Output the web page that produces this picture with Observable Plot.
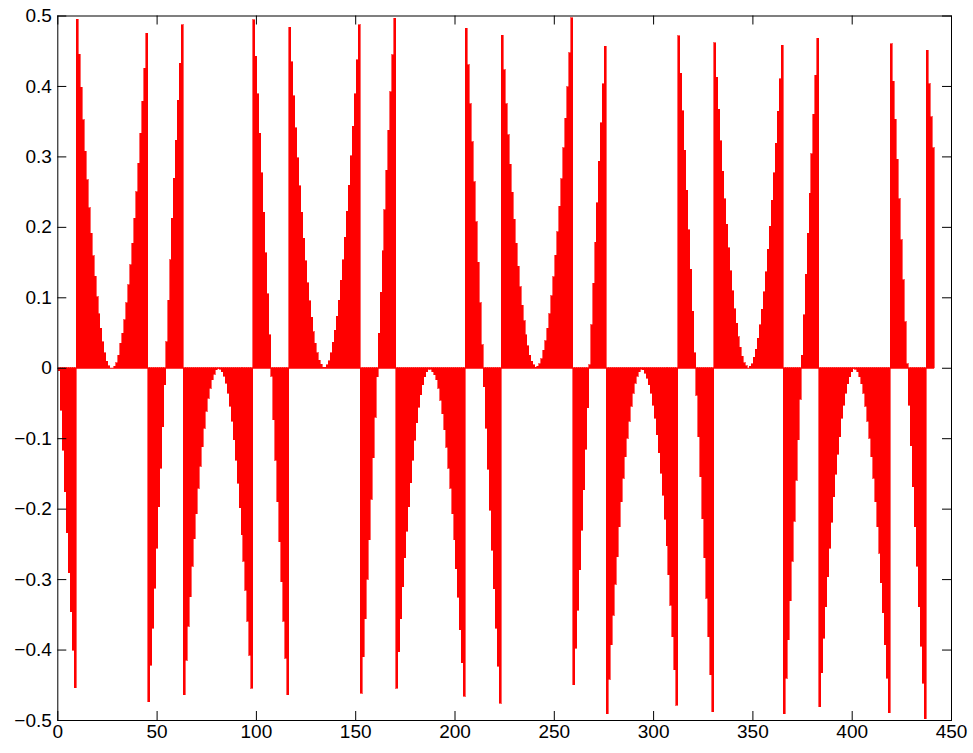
<!DOCTYPE html>
<html>
<head>
<meta charset="utf-8">
<script src="https://cdn.jsdelivr.net/npm/d3@7"></script>
<script src="https://cdn.jsdelivr.net/npm/@observablehq/plot@0.6"></script>
<style>
  html, body { margin: 0; padding: 0; background: #fff; }
  #chart svg { display: block; }
</style>
</head>
<body>
<div id="chart"></div>
<script>
// Tick values
const xTicks = [0, 50, 100, 150, 200, 250, 300, 350, 400, 450];
const yTicks = [-0.5, -0.4, -0.3, -0.2, -0.1, 0, 0.1, 0.2, 0.3, 0.4, 0.5];

// Bar values, sample index 1..441
const seg001 = [-0.004, -0.060, -0.117, -0.176, -0.234, -0.291, -0.346, -0.401, -0.454];
const seg010 = [0.495, 0.445, 0.398, 0.352, 0.307, 0.267, 0.227, 0.191, 0.159, 0.130, 0.101, 0.077, 0.056, 0.037, 0.021, 0.009, 0.003, 0.000,
                0.000, 0.002, 0.007, 0.018, 0.035, 0.049, 0.068, 0.092, 0.118, 0.146, 0.177, 0.212, 0.250, 0.290, 0.333, 0.378, 0.425, 0.475];
const seg046 = [-0.474, -0.422, -0.370, -0.313, -0.256, -0.197, -0.143, -0.084, -0.024, 0.037, 0.096, 0.153, 0.212, 0.269, 0.323, 0.380, 0.432, 0.487];
const seg064 = [-0.464, -0.415, -0.367, -0.325, -0.282, -0.243, -0.207, -0.171, -0.140, -0.112, -0.086, -0.062, -0.043, -0.029, -0.017, -0.009, -0.003, -0.001,
                -0.002, -0.006, -0.012, -0.022, -0.036, -0.055, -0.076, -0.102, -0.131, -0.164, -0.199, -0.237, -0.275, -0.316, -0.360, -0.408, -0.455];
const seg099 = [0.494, 0.442, 0.389, 0.333, 0.277, 0.221, 0.163, 0.105, 0.047, -0.012, -0.074, -0.131, -0.190, -0.247, -0.304, -0.360, -0.412, -0.464];
const seg117 = [0.483, 0.434, 0.386, 0.341, 0.298, 0.258, 0.221, 0.184, 0.152, 0.121, 0.095, 0.072, 0.051, 0.035, 0.021, 0.011, 0.005, 0.001,
                0.001, 0.004, 0.010, 0.021, 0.036, 0.053, 0.073, 0.096, 0.124, 0.153, 0.185, 0.222, 0.259, 0.301, 0.343, 0.389, 0.437, 0.487];
const seg153 = [-0.462, -0.410, -0.356, -0.300, -0.244, -0.187, -0.128, -0.070, -0.013, 0.049, 0.107, 0.166, 0.224, 0.280, 0.337, 0.392, 0.444, 0.496];
const seg171 = [-0.455, -0.403, -0.356, -0.311, -0.270, -0.232, -0.197, -0.163, -0.131, -0.103, -0.078, -0.056, -0.038, -0.024, -0.013, -0.006, -0.002,
                -0.002, -0.006, -0.010, -0.017, -0.029, -0.046, -0.065, -0.088, -0.113, -0.143, -0.171, -0.207, -0.244, -0.285, -0.326, -0.372, -0.419, -0.466];
const seg206 = [0.482, 0.430, 0.375, 0.321, 0.264, 0.207, 0.150, 0.092, 0.033, -0.027, -0.086, -0.144, -0.202, -0.259, -0.314, -0.370, -0.424, -0.476];
const seg224 = [0.472, 0.423, 0.375, 0.331, 0.289, 0.249, 0.211, 0.177, 0.144, 0.115, 0.089, 0.067, 0.047, 0.031, 0.018, 0.009, 0.004, 0.001,
                0.002, 0.006, 0.013, 0.025, 0.038, 0.056, 0.077, 0.102, 0.129, 0.160, 0.193, 0.229, 0.268, 0.312, 0.354, 0.399, 0.447, 0.497];
const seg260 = [-0.450, -0.398, -0.344, -0.287, -0.231, -0.173, -0.116, -0.057, 0.004, 0.061, 0.120, 0.178, 0.234, 0.293, 0.348, 0.403, 0.456];
const seg277 = [-0.491, -0.442, -0.393, -0.351, -0.307, -0.268, -0.226, -0.190, -0.157, -0.126, -0.100, -0.076, -0.055, -0.036, -0.022, -0.012, -0.006, -0.002,
                -0.003, -0.008, -0.015, -0.024, -0.036, -0.053, -0.072, -0.095, -0.121, -0.150, -0.181, -0.215, -0.253, -0.294, -0.337, -0.382, -0.429, -0.479];
const seg313 = [0.471, 0.418, 0.365, 0.309, 0.252, 0.196, 0.140, 0.080, 0.021, -0.039, -0.098, -0.155, -0.214, -0.270, -0.327, -0.382, -0.436, -0.488];
const seg331 = [0.461, 0.412, 0.367, 0.322, 0.279, 0.240, 0.204, 0.170, 0.138, 0.109, 0.084, 0.063, 0.044, 0.029, 0.016, 0.007, 0.003, 0.000,
                0.002, 0.006, 0.015, 0.026, 0.042, 0.061, 0.083, 0.108, 0.136, 0.168, 0.201, 0.238, 0.277, 0.319, 0.364, 0.410, 0.458];
const seg366 = [-0.491, -0.441, -0.386, -0.331, -0.275, -0.218, -0.160, -0.102, -0.045, 0.018, 0.075, 0.133, 0.191, 0.248, 0.304, 0.360, 0.415, 0.468];
const seg384 = [-0.481, -0.433, -0.384, -0.339, -0.297, -0.256, -0.219, -0.183, -0.151, -0.123, -0.098, -0.072, -0.053, -0.036, -0.023, -0.013, -0.006, -0.001,
                -0.002, -0.006, -0.013, -0.023, -0.036, -0.055, -0.076, -0.100, -0.126, -0.157, -0.190, -0.226, -0.263, -0.305, -0.348, -0.393, -0.441, -0.490];
const seg420 = [0.460, 0.407, 0.353, 0.296, 0.240, 0.182, 0.125, 0.065, 0.006, -0.053, -0.111, -0.169, -0.226, -0.282, -0.339, -0.395, -0.448, -0.498];
const seg438 = [0.451, 0.403, 0.356, 0.312];

const values = [].concat(seg001, seg010, seg046, seg064, seg099, seg117, seg153, seg171, seg206,
                         seg224, seg260, seg277, seg313, seg331, seg366, seg384, seg420, seg438);
const data = values.map((v, i) => ({x: i + 1, y: v}));
const xFirst = data[0].x, xLast = data[data.length - 1].x;

const W = 973, H = 753;
const mL = 57.3, mR = 22, mT = 15.5, mB = 33;
const plotW = W - mL - mR, plotH = H - mT - mB;
const tickLen = 9;
const font = "'Liberation Sans', Arial, Helvetica, sans-serif";
const fmtY = d => d === 0 ? "0" : (d < 0 ? "\u2212" + Math.abs(d).toFixed(1) : d.toFixed(1));

const chart = Plot.plot({
  width: W,
  height: H,
  marginLeft: mL,
  marginRight: mR,
  marginTop: mT,
  marginBottom: mB,
  style: {fontFamily: font, fontSize: "19px", color: "#000", background: "#fff", overflow: "visible"},
  x: {domain: [0, 450], label: null},
  y: {domain: [-0.5, 0.5], label: null},
  marks: [
    Plot.rect(data, {x1: d => d.x - 0.5, x2: d => d.x + 0.5, y1: () => 0, y2: "y",
                     fill: "#ff0000", stroke: "#ff0000", strokeWidth: 0.6, shapeRendering: "crispEdges"}),
    Plot.ruleY([0], {x1: xFirst - 0.5, x2: xLast + 0.5, stroke: "#ff0000", strokeWidth: 1}),
    // inward ticks on all four sides
    Plot.tickX(xTicks, {x: d => d, stroke: "#000", insetTop: plotH - tickLen}),
    Plot.tickX(xTicks, {x: d => d, stroke: "#000", insetBottom: plotH - tickLen}),
    Plot.tickY(yTicks, {y: d => d, stroke: "#000", insetRight: plotW - tickLen}),
    Plot.tickY(yTicks, {y: d => d, stroke: "#000", insetLeft: plotW - tickLen}),
    Plot.frame({stroke: "#000", strokeWidth: 1}),
    Plot.axisX(xTicks, {anchor: "bottom", tickSize: 0, tickPadding: 4, tickFormat: d => String(d),
                        fontSize: 19, fill: "#000", label: null}),
    Plot.axisY(yTicks, {anchor: "left", tickSize: 0, tickPadding: 6, tickFormat: fmtY,
                        fontSize: 19, fill: "#000", label: null})
  ]
});
document.getElementById("chart").appendChild(chart);
</script>
</body>
</html>
